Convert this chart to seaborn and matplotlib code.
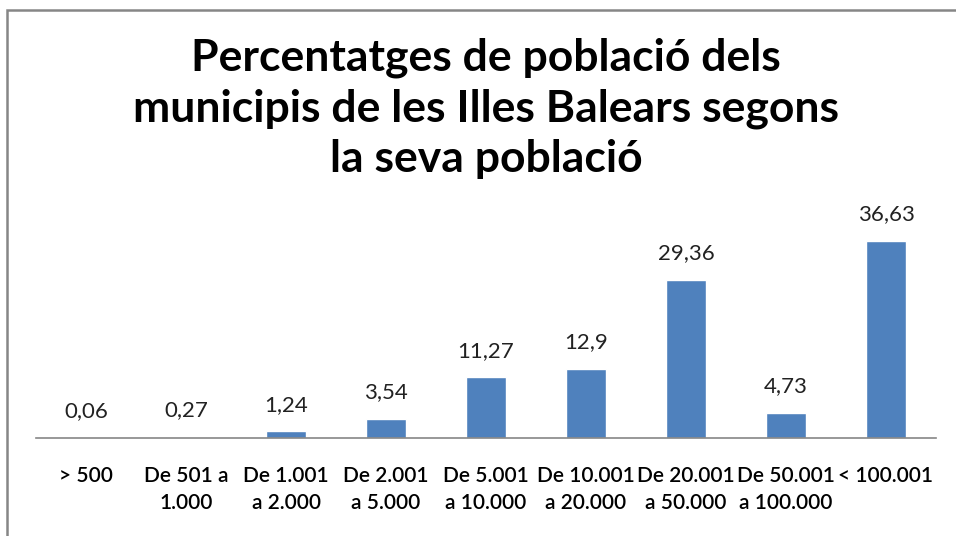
import matplotlib
matplotlib.use('Agg')
import matplotlib.pyplot as plt
import pandas as pd
import seaborn as sns
from matplotlib.patches import Rectangle

# dades
categories = ['> 500', 'De 501 a\n1.000', 'De 1.001\na 2.000', 'De 2.001\na 5.000',
              'De 5.001\na 10.000', 'De 10.001\na 20.000', 'De 20.001\na 50.000',
              'De 50.001\na 100.000', '< 100.001']
percentatges = [0.06, 0.27, 1.24, 3.54, 11.27, 12.9, 29.36, 4.73, 36.63]
titol = 'Percentatges de població dels\nmunicipis de les Illes Balears segons\nla seva població'

sns.set_theme(style='white')
plt.rcParams['font.family'] = ['Lato', 'DejaVu Sans']

df = pd.DataFrame({'categoria': categories, 'valor': percentatges})

W, H = 956, 536
fig = plt.figure(figsize=(W / 100, H / 100), dpi=100)
ax = fig.add_axes([36 / W, (H - 438) / H, 900 / W, 238 / H])

sns.barplot(data=df, x='categoria', y='valor', color='#4F81BD', width=0.4,
            saturation=1, ax=ax)

ax.set_ylim(0, 238 / 5.38)
ax.set_xlim(-0.5, len(categories) - 0.5)
ax.set_xlabel('')
ax.set_ylabel('')
ax.set_yticks([])
for s in ['top', 'left', 'right']:
    ax.spines[s].set_visible(False)
ax.spines['bottom'].set_color('#868686')
ax.spines['bottom'].set_linewidth(1.2)
ax.tick_params(axis='x', length=0, pad=20, labelsize=15, colors='black')
for lab in ax.get_xticklabels():
    lab.set_linespacing(1.45)
    lab.set_fontweight('semibold')

ax.bar_label(ax.containers[0], labels=[str(v).replace('.', ',') for v in percentatges],
             padding=12, fontsize=16, color='#222222')

fig.text(486 / W, 1 - 38 / H, titol, ha='center', va='top', fontsize=32,
         fontweight='bold', linespacing=1.3, color='black')

# vora del gràfic
fig.patches.append(Rectangle((7 / W, -0.1), 1.2, 1 - 10 / H + 0.1,
                             transform=fig.transFigure, fill=False,
                             edgecolor='#868686', linewidth=1.8))

fig.savefig('out.png', dpi=100)
